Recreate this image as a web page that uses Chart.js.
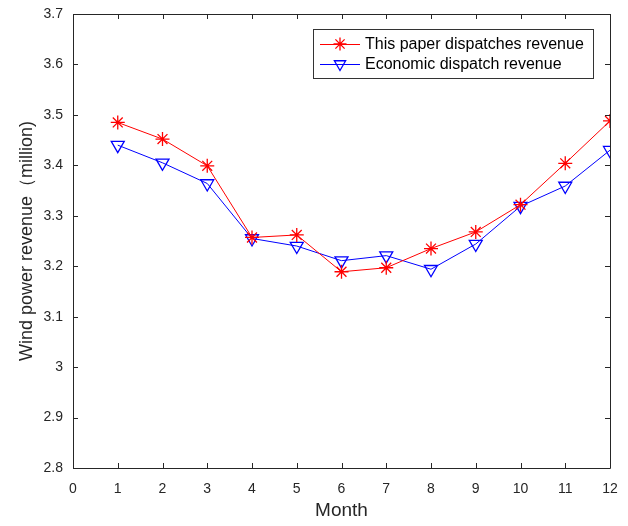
<!DOCTYPE html>
<html>
<head>
<meta charset="utf-8">
<script src="https://cdn.jsdelivr.net/npm/chart.js@4/dist/chart.umd.min.js"></script>
<style>
  html, body { margin: 0; padding: 0; background: #fff; }
  #wrap { width: 628px; height: 526px; }
</style>
</head>
<body>
<div id="wrap"><canvas id="revenueChart" width="628" height="526"></canvas></div>
<script>
const months = [1, 2, 3, 4, 5, 6, 7, 8, 9, 10, 11, 12];
const paperRevenue = [3.485, 3.452, 3.399, 3.257, 3.262, 3.189, 3.197, 3.235, 3.268, 3.322, 3.404, 3.488];
const economicRevenue = [3.440, 3.405, 3.364, 3.255, 3.240, 3.211, 3.221, 3.194, 3.244, 3.319, 3.359, 3.430];
const xTicks = [0, 1, 2, 3, 4, 5, 6, 7, 8, 9, 10, 11, 12];
const yTicks = [2.8, 2.9, 3.0, 3.1, 3.2, 3.3, 3.4, 3.5, 3.6, 3.7];

const FONT = 'Arial, "Liberation Sans", sans-serif';
const tickColor = '#262626';

// MATLAB-like box with inward ticks on all four sides
const boxTicks = {
  id: 'boxTicks',
  afterDraw(chart) {
    const ctx = chart.ctx;
    const a = chart.chartArea;
    const xs = chart.scales.x, ys = chart.scales.y;
    ctx.save();
    ctx.strokeStyle = '#262626';
    ctx.lineWidth = 1;
    ctx.beginPath();
    ctx.rect(Math.round(a.left) + 0.5, Math.round(a.top) + 0.5,
             Math.round(a.right - a.left), Math.round(a.bottom - a.top));
    ctx.stroke();
    const len = 5;
    ctx.beginPath();
    xTicks.forEach(v => {
      const px = Math.round(xs.getPixelForValue(v)) + 0.5;
      ctx.moveTo(px, a.bottom); ctx.lineTo(px, a.bottom - len);
      ctx.moveTo(px, a.top); ctx.lineTo(px, a.top + len);
    });
    yTicks.forEach(v => {
      const py = Math.round(ys.getPixelForValue(v)) + 0.5;
      ctx.moveTo(a.left, py); ctx.lineTo(a.left + len, py);
      ctx.moveTo(a.right, py); ctx.lineTo(a.right - len, py);
    });
    ctx.stroke();

    // legend box
    const lx = 313, ly = 29, lw = 280, lh = 49;
    ctx.fillStyle = '#fff';
    ctx.fillRect(lx, ly, lw, lh);
    ctx.strokeStyle = '#333';
    ctx.strokeRect(lx + 0.5, ly + 0.5, lw, lh);
    ctx.font = '16px ' + FONT;
    ctx.textBaseline = 'middle';
    chart.data.datasets.forEach((ds, i) => {
      const cy = ly + 15 + i * 20;
      ctx.strokeStyle = ds.borderColor;
      ctx.lineWidth = 1;
      ctx.beginPath();
      ctx.moveTo(lx + 7, cy + 0.5); ctx.lineTo(lx + 47, cy + 0.5);
      ctx.stroke();
      ctx.fillStyle = 'rgba(0,0,0,0)';
      ctx.lineWidth = 1.3;
      Chart.helpers.drawPoint(ctx, {
        pointStyle: ds.pointStyle, radius: 6.5, rotation: ds.pointRotation || 0,
        borderWidth: 1.3
      }, lx + 27, cy);
      ctx.fillStyle = '#000';
      ctx.fillText(ds.label, lx + 52, cy + 1);
    });
    ctx.restore();
  }
};

new Chart(document.getElementById('revenueChart'), {
  type: 'line',
  data: {
    labels: months,
    datasets: [{
      label: 'This paper dispatches revenue',
      data: months.map((m, i) => ({ x: m, y: paperRevenue[i] })),
      borderColor: '#ff0000',
      backgroundColor: 'transparent',
      borderWidth: 1,
      pointStyle: 'star',
      pointRadius: 7,
      pointBorderWidth: 1.3,
      pointBorderColor: '#ff0000',
      pointBackgroundColor: 'transparent',
      tension: 0
    }, {
      label: 'Economic dispatch revenue',
      data: months.map((m, i) => ({ x: m, y: economicRevenue[i] })),
      borderColor: '#0000ff',
      backgroundColor: 'transparent',
      borderWidth: 1,
      pointStyle: 'triangle',
      pointRotation: 180,
      pointRadius: 7.5,
      pointBorderWidth: 1.3,
      pointBorderColor: '#0000ff',
      pointBackgroundColor: 'transparent',
      tension: 0
    }]
  },
  options: {
    responsive: false,
    animation: false,
    layout: { padding: { top: 14, right: 18, left: 12, bottom: 0 } },
    plugins: { legend: { display: false }, tooltip: { enabled: false } },
    scales: {
      x: {
        type: 'linear',
        min: 0, max: 12,
        afterBuildTicks: s => { s.ticks = xTicks.map(v => ({ value: v })); },
        afterFit: s => { s.height = 58; s.paddingLeft = 0; s.paddingRight = 0; },
        grid: { display: false, drawTicks: false },
        border: { display: false },
        ticks: { color: tickColor, font: { family: FONT, size: 14 }, padding: 13, maxRotation: 0 },
        title: { display: true, text: 'Month', color: tickColor, font: { family: FONT, size: 19 }, padding: { top: 3 } }
      },
      y: {
        min: 2.8, max: 3.7,
        afterBuildTicks: s => { s.ticks = yTicks.map(v => ({ value: v })); },
        afterFit: s => { s.width = 61; s.paddingTop = 0; s.paddingBottom = 0; },
        grid: { display: false, drawTicks: false },
        border: { display: false },
        ticks: { color: tickColor, font: { family: FONT, size: 14 }, padding: 10,
                 callback: v => String(+v.toFixed(1)) },
        title: { display: true, text: 'Wind power revenue（million)', color: tickColor, font: { family: FONT, size: 18 }, padding: { bottom: 3 } }
      }
    }
  },
  plugins: [boxTicks]
});
</script>
</body>
</html>
